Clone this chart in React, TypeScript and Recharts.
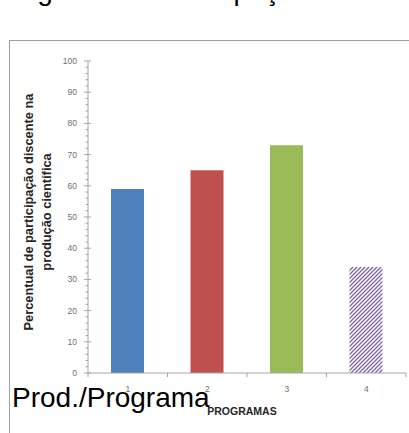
import { Bar, BarChart, Cell, Label, XAxis, YAxis } from 'recharts'

// valores (percentual por programa)
const programas = ['1', '2', '3', '4']
const percentuais = [59, 65, 73, 34]
const barFills = ['#4f81bd', '#c0504d', '#9bbb59', 'url(#hachura)']

const yTicks = [
  0, 2, 4, 6, 8, 10, 12, 14, 16, 18, 20, 22, 24, 26, 28, 30, 32, 34, 36, 38, 40, 42, 44, 46, 48,
  50, 52, 54, 56, 58, 60, 62, 64, 66, 68, 70, 72, 74, 76, 78, 80, 82, 84, 86, 88, 90, 92, 94, 96,
  98, 100,
]

const yLabelLines = ['Percentual de participação discente na', 'produção científica']
const xLabel = 'PROGRAMAS'

const data = programas.map((p, i) => ({ programa: p, valor: percentuais[i] }))

const axisGray = '#a6a6a6'
const tickGray = '#6f6f6f'

function YTick({ x, y, payload }: any) {
  const major = payload.value % 10 === 0
  return (
    <g>
      <line x1={x - (major ? 4 : 2.5)} x2={x + (major ? 3 : 0)} y1={y} y2={y} stroke={axisGray} />
      {major ? (
        <text x={x - 11} y={y} dy={3} textAnchor="end" fontSize={8.5} fill={tickGray} fontFamily="Liberation Sans, Arial">
          {payload.value}
        </text>
      ) : null}
    </g>
  )
}

function XTick({ x, y, payload, index }: any) {
  const off = payload.offset ?? 0
  return (
    <g>
      {index === 0 ? <line x1={x - off} x2={x - off} y1={y} y2={y + 4} stroke={axisGray} /> : null}
      <line x1={x + off} x2={x + off} y1={y} y2={y + 4} stroke={axisGray} />
      <text x={x} y={y + 19} textAnchor="middle" fontSize={8.5} fill={tickGray} fontFamily="Liberation Sans, Arial">
        {payload.value}
      </text>
    </g>
  )
}

function YLabel({ viewBox }: any) {
  const cy = viewBox.y + viewBox.height / 2 - 5
  const x0 = viewBox.x + viewBox.width
  return (
    <g>
      {yLabelLines.map((line, i) => {
        const cx = x0 - 55 + i * 18
        return (
          <text
            key={i}
            x={cx}
            y={cy}
            transform={`rotate(-90 ${cx} ${cy})`}
            textAnchor="middle"
            fontSize={12.8}
            fontWeight="bold"
            fill="#262626"
            fontFamily="Liberation Sans, Arial"
          >
            {line}
          </text>
        )
      })}
    </g>
  )
}

function XLabel({ viewBox }: any) {
  return (
    <text
      x={viewBox.x + viewBox.width / 2 - 5}
      y={viewBox.y + 42}
      textAnchor="middle"
      fontSize={10.5}
      fontWeight="bold"
      fill="#262626"
      fontFamily="Liberation Sans, Arial"
    >
      {xLabel}
    </text>
  )
}

export default function App() {
  return (
    <div
      style={{
        position: 'absolute',
        left: 0,
        top: 0,
        width: 409,
        height: 433,
        overflow: 'hidden',
        background: '#fff',
      }}
    >
      <div
        style={{
          position: 'absolute',
          left: 9,
          top: 40,
          width: 440,
          height: 440,
          border: '1.5px solid #a0a0a0',
        }}
      />
      <div style={{ position: 'absolute', left: 0, top: 0 }}>
        <BarChart width={409} height={433} data={data} margin={{ top: 61, right: 3, bottom: 30, left: 68 }}>
          <defs>
            <pattern id="hachura" patternUnits="userSpaceOnUse" width="4" height="4">
              <rect width="4" height="4" fill="#fff" />
              <path d="M-1,1 l2,-2 M0,4 l4,-4 M3,5 l2,-2" stroke="#8064a2" strokeWidth={1.3} />
            </pattern>
          </defs>
          <XAxis
            dataKey="programa"
            height={30}
            tickLine={false}
            tickSize={0}
            tickMargin={0}
            stroke={axisGray}
            tick={<XTick />}
            interval={0}
          >
            <Label content={<XLabel />} />
          </XAxis>
          <YAxis
            width={20}
            domain={[0, 100]}
            ticks={yTicks}
            interval={0}
            tickLine={false}
            tickSize={0}
            tickMargin={0}
            stroke={axisGray}
            tick={<YTick />}
          >
            <Label content={<YLabel />} />
          </YAxis>
          <Bar dataKey="valor" barSize={33} isAnimationActive={false}>
            {data.map((d, i) => (
              <Cell key={d.programa} fill={barFills[i]} />
            ))}
          </Bar>
        </BarChart>
      </div>
      <svg
        width={409}
        height={433}
        style={{ position: 'absolute', left: 0, top: 0, pointerEvents: 'none' }}
      >
        <text x={14} y={0} fontSize={28} fill="#000" fontFamily="Liberation Sans, Arial">
          Figura 1: A Participação
        </text>
        <text x={12} y={407} fontSize={28} fill="#000" fontFamily="Liberation Sans, Arial">
          Prod./Programa
        </text>
      </svg>
    </div>
  )
}
